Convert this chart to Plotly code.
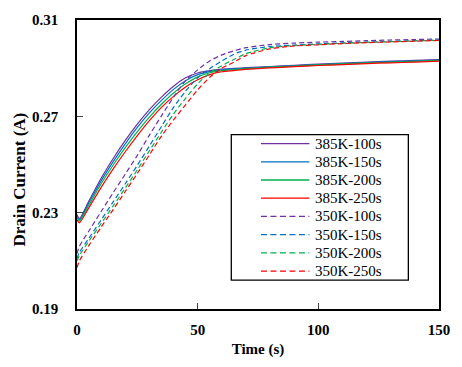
import plotly.graph_objects as go

time_s = [0, 1, 5, 10, 15, 20, 25, 30, 35, 40, 45, 50, 55, 60, 65, 70, 80, 90, 100, 110, 120, 130, 140, 150]

i_385_100 = [0.2292, 0.2275, 0.2350, 0.2443, 0.2525, 0.2600, 0.2668, 0.2728, 0.2780, 0.2825, 0.2860, 0.2880,
             0.2890, 0.2896, 0.2899, 0.2902, 0.2907, 0.2912, 0.2917, 0.2921, 0.2925, 0.2929, 0.2932, 0.2936]
i_385_150 = [0.2286, 0.2270, 0.2342, 0.2432, 0.2512, 0.2586, 0.2654, 0.2714, 0.2766, 0.2812, 0.2848, 0.2873,
             0.2886, 0.2893, 0.2897, 0.2900, 0.2905, 0.2910, 0.2915, 0.2919, 0.2923, 0.2927, 0.2930, 0.2934]
i_385_200 = [0.2280, 0.2265, 0.2333, 0.2420, 0.2498, 0.2570, 0.2637, 0.2697, 0.2750, 0.2797, 0.2835, 0.2864,
             0.2881, 0.2890, 0.2894, 0.2898, 0.2904, 0.2909, 0.2914, 0.2918, 0.2922, 0.2925, 0.2928, 0.2932]
i_385_250 = [0.2270, 0.2258, 0.2322, 0.2405, 0.2482, 0.2553, 0.2620, 0.2682, 0.2737, 0.2783, 0.2822, 0.2852,
             0.2873, 0.2885, 0.2890, 0.2895, 0.2901, 0.2906, 0.2911, 0.2915, 0.2919, 0.2922, 0.2925, 0.2929]

i_350_100 = [0.2130, 0.2160, 0.2225, 0.2305, 0.2383, 0.2460, 0.2538, 0.2622, 0.2702, 0.2780, 0.2848, 0.2893,
             0.2930, 0.2955, 0.2972, 0.2985, 0.2998, 0.3004, 0.3008, 0.3011, 0.3014, 0.3017, 0.3019, 0.3021]
i_350_150 = [0.2110, 0.2135, 0.2195, 0.2270, 0.2345, 0.2420, 0.2497, 0.2577, 0.2658, 0.2737, 0.2805, 0.2860,
             0.2898, 0.2930, 0.2958, 0.2975, 0.2990, 0.2996, 0.3001, 0.3005, 0.3008, 0.3011, 0.3014, 0.3016]
i_350_200 = [0.2100, 0.2122, 0.2183, 0.2255, 0.2328, 0.2402, 0.2478, 0.2557, 0.2635, 0.2710, 0.2775, 0.2835,
             0.2880, 0.2910, 0.2936, 0.2960, 0.2985, 0.2994, 0.2999, 0.3003, 0.3007, 0.3010, 0.3013, 0.3016]
i_350_250 = [0.2072, 0.2100, 0.2165, 0.2240, 0.2313, 0.2388, 0.2463, 0.2540, 0.2618, 0.2685, 0.2748, 0.2810,
             0.2862, 0.2900, 0.2925, 0.2952, 0.2980, 0.2992, 0.2997, 0.3002, 0.3006, 0.3009, 0.3012, 0.3015]

series_names = ["385K-100s", "385K-150s", "385K-200s", "385K-250s",
                "350K-100s", "350K-150s", "350K-200s", "350K-250s"]
series_values = [i_385_100, i_385_150, i_385_200, i_385_250,
                 i_350_100, i_350_150, i_350_200, i_350_250]
colors = ["#7030A0", "#0070C0", "#00B050", "#FF0000"] * 2
dashes = ["solid"] * 4 + ["5px,3px"] * 4
legend_dashes = ["solid"] * 4 + ["6px,3.5px"] * 4

y_ticks = [0.19, 0.23, 0.27, 0.31]
y_tick_labels = ["0.19", "0.23", "0.27", "0.31"]
x_ticks = [0, 50, 100, 150]

font_family = "Liberation Serif"

# plot-area geometry (pixels) used only to place the legend box and y title
L, R, T, B = 77, 443, 15, 315
def px(x):
    return (x - L) / (R - L)
def py(y):
    return (B - y) / (B - T)

fig = go.Figure()
for name, vals, col, dsh in zip(series_names, series_values, colors, dashes):
    fig.add_trace(go.Scatter(x=time_s, y=vals, mode="lines", name=name, showlegend=False,
                             line=dict(color=col, width=1.2, dash=dsh, shape="spline", smoothing=0.7)))

# legend box
fig.add_shape(type="rect", xref="paper", yref="paper",
              x0=px(233), x1=px(412), y0=py(285), y1=py(134),
              line=dict(color="black", width=1.3), fillcolor="white", layer="above")
row0, step = 143.3, 18.9
for k, (name, col, dsh) in enumerate(zip(series_names, colors, legend_dashes)):
    yy = py(row0 + step * k)
    fig.add_shape(type="line", xref="paper", yref="paper",
                  x0=px(263), x1=px(312), y0=yy, y1=yy,
                  line=dict(color=col, width=1.3, dash=dsh), layer="above")
    fig.add_annotation(xref="paper", yref="paper", x=px(316), y=yy, text=name,
                       showarrow=False, xanchor="left", yanchor="middle",
                       font=dict(family=font_family, size=15, color="black"))

# y-axis title
fig.add_annotation(xref="paper", yref="paper", x=px(19), y=py(181), text="<b>Drain Current (A)</b>",
                   textangle=-90, showarrow=False, xanchor="center", yanchor="middle",
                   font=dict(family=font_family, size=17, color="black"))

fig.update_layout(
    width=462, height=367,
    margin=dict(l=77, r=19, t=15, b=52),
    paper_bgcolor="white", plot_bgcolor="white",
    font=dict(family=font_family, size=15, color="black"),
    showlegend=False,
    xaxis=dict(range=[0, 150], tickvals=x_ticks, ticks="inside", ticklen=6,
               showline=True, linecolor="black", linewidth=1.5, mirror=True,
               showgrid=False, zeroline=False, ticklabelstandoff=6,
               tickfont=dict(family=font_family, size=15, color="black", weight="bold"),
               title=dict(text="<b>Time (s)</b>", font=dict(family=font_family, size=15), standoff=7)),
    yaxis=dict(range=[0.19, 0.31], tickvals=y_ticks, ticktext=y_tick_labels, ticks="inside", ticklen=6,
               showline=True, linecolor="black", linewidth=1.5, mirror=True,
               showgrid=False, zeroline=False, ticklabelstandoff=14,
               tickfont=dict(family=font_family, size=15, color="black", weight="bold")),
)

fig.write_html("out.html", config={"displayModeBar": False},
               post_script="document.body.style.margin='0px';")
